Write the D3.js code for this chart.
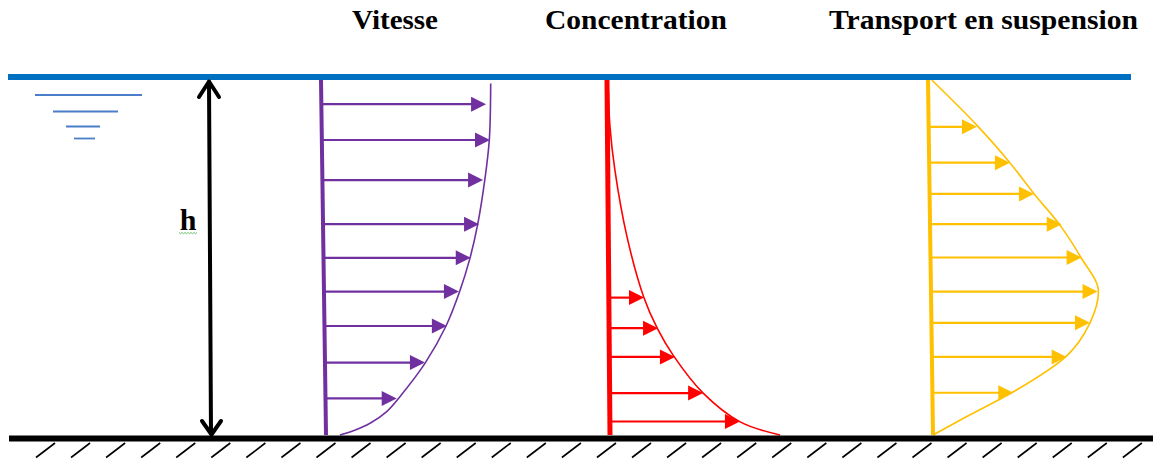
<!DOCTYPE html>
<html>
<head>
<meta charset="utf-8">
<script src="https://cdn.jsdelivr.net/npm/d3@7"></script>
<style>
  html, body { margin: 0; padding: 0; background: #fff; }
  svg { display: block; }
</style>
</head>
<body>
<div id="chart"></div>
<script>
// ---------------- DATA (relative height z: 0 = bed, 1 = surface; values normalised) ----------------
const titles = ["Vitesse", "Concentration", "Transport en suspension"];
const depthLabel = "h";

// Vitesse (velocity) profile
const velArrowZ = [0.932, 0.831, 0.718, 0.594, 0.499, 0.404, 0.307, 0.204, 0.103];
const velArrowU = [0.969, 0.989, 0.945, 0.918, 0.866, 0.794, 0.720, 0.588, 0.419];
const velCurveZ = [0.99, 0.831, 0.718, 0.594, 0.499, 0.404, 0.307, 0.203, 0.108, 0.066, 0.033, 0.012, 0.0];
const velCurveU = [0.998, 0.985, 0.955, 0.910, 0.862, 0.798, 0.715, 0.590, 0.438, 0.359, 0.260, 0.161, 0.082];

// Concentration profile
const concArrowZ = [0.387, 0.301, 0.220, 0.118, 0.038];
const concArrowC = [0.207, 0.288, 0.386, 0.550, 0.765];
const concCurveZ = [1.0, 0.87, 0.746, 0.558, 0.389, 0.301, 0.225, 0.118, 0.037, 0.0];
const concCurveC = [0.006, 0.015, 0.042, 0.110, 0.205, 0.283, 0.375, 0.550, 0.766, 1.0];

// Transport en suspension profile
const trArrowZ = [0.868, 0.767, 0.679, 0.594, 0.500, 0.404, 0.316, 0.220, 0.119];
const trArrowT = [0.284, 0.475, 0.614, 0.775, 0.889, 0.980, 0.933, 0.793, 0.476];
const trCurveZ = [1.0, 0.873, 0.770, 0.679, 0.594, 0.500, 0.404, 0.318, 0.223, 0.119, 0.052, 0.0];
const trCurveT = [0.022, 0.283, 0.470, 0.615, 0.760, 0.885, 0.985, 0.935, 0.793, 0.466, 0.200, 0.0];

// ---------------- LAYOUT ----------------
const W = 1153, H = 464;
const svg = d3.select("#chart").append("svg").attr("width", W).attr("height", H);

const yZ = d3.scaleLinear().domain([0, 1]).range([435, 80]);
const valueScale = d3.scaleLinear().domain([0, 1]).range([0, 170]);

const panels = [
  { title: titles[0], color: "#7030A0", baseBottom: 326, baseTop: 321, baseWidth: 4,
    arrowZ: velArrowZ, arrowV: velArrowU, curveZ: velCurveZ, curveV: velCurveU,
    curve: d3.curveCatmullRom.alpha(0.5), titleX: 352, titleW: 86 },
  { title: titles[1], color: "#FF0000", baseBottom: 610, baseTop: 607, baseWidth: 5,
    arrowZ: concArrowZ, arrowV: concArrowC, curveZ: concCurveZ, curveV: concCurveC,
    curve: d3.curveCatmullRom.alpha(0.5), titleX: 545, titleW: 182 },
  { title: titles[2], color: "#FFC000", baseBottom: 933, baseTop: 928, baseWidth: 4,
    arrowZ: trArrowZ, arrowV: trArrowT, curveZ: trCurveZ, curveV: trCurveT,
    curve: d3.curveMonotoneY, titleX: 829, titleW: 309 }
];

// Titles
panels.forEach(p => {
  svg.append("text")
    .attr("x", p.titleX).attr("y", 29)
    .attr("font-family", "'Liberation Serif', 'Times New Roman', serif")
    .attr("font-weight", "bold")
    .attr("font-size", 28)
    .attr("textLength", p.titleW)
    .attr("lengthAdjust", "spacingAndGlyphs")
    .attr("fill", "#000")
    .text(p.title);
});

// Profiles
panels.forEach(p => {
  const base = d3.scaleLinear().domain([0, 1]).range([p.baseBottom, p.baseTop]);
  const xOf = (z, v) => base(z) + valueScale(v);
  const g = svg.append("g");

  // vertical base line
  g.append("line")
    .attr("x1", base(1)).attr("y1", yZ(1))
    .attr("x2", base(0)).attr("y2", yZ(0))
    .attr("stroke", p.color).attr("stroke-width", p.baseWidth);

  // profile curve
  const pts = p.curveZ.map((z, i) => [xOf(z, p.curveV[i]), yZ(z)]);
  g.append("path")
    .attr("d", d3.line().curve(p.curve)(pts))
    .attr("fill", "none").attr("stroke", p.color).attr("stroke-width", 1.6);

  // arrows
  const arrows = p.arrowZ.map((z, i) => ({ z, v: p.arrowV[i] }));
  const ag = g.selectAll("g.arrow").data(arrows).join("g").attr("class", "arrow");
  ag.append("line")
    .attr("x1", d => base(d.z))
    .attr("x2", d => xOf(d.z, d.v) - 12)
    .attr("y1", d => yZ(d.z)).attr("y2", d => yZ(d.z))
    .attr("stroke", p.color).attr("stroke-width", 2.2);
  ag.append("path")
    .attr("d", d => {
      const tx = xOf(d.z, d.v), ty = yZ(d.z);
      return `M${tx},${ty}L${tx - 15},${ty - 7.5}L${tx - 15},${ty + 7.5}Z`;
    })
    .attr("fill", p.color);
});

// Water surface
svg.append("line")
  .attr("x1", 8).attr("x2", 1131).attr("y1", 77).attr("y2", 77)
  .attr("stroke", "#0070C0").attr("stroke-width", 6);

// Water surface symbol
const surfSym = [[35, 142, 95], [53, 118, 111.5], [66, 100, 126.5], [74, 95, 138.5]];
svg.selectAll("line.sym").data(surfSym).join("line").attr("class", "sym")
  .attr("x1", d => d[0]).attr("x2", d => d[1])
  .attr("y1", d => d[2]).attr("y2", d => d[2])
  .attr("stroke", "#4A7EC8").attr("stroke-width", 1.8);

// Bed line
svg.append("line")
  .attr("x1", 9).attr("x2", 1153).attr("y1", 438.5).attr("y2", 438.5)
  .attr("stroke", "#000").attr("stroke-width", 6);

// Hatching
const hatchX = d3.range(36, 1135, 35.06);
svg.selectAll("line.hatch").data(hatchX).join("line").attr("class", "hatch")
  .attr("x1", d => d).attr("y1", 457.5)
  .attr("x2", d => d + 19).attr("y2", 443)
  .attr("stroke", "#000").attr("stroke-width", 1.6);

// Depth arrow h
const hg = svg.append("g").attr("stroke", "#000").attr("stroke-width", 4)
  .attr("fill", "none").attr("stroke-linecap", "round").attr("stroke-linejoin", "round");
hg.append("line").attr("x1", 209).attr("y1", 82).attr("x2", 211).attr("y2", 433);
hg.append("path").attr("d", "M199,97L209,81.5L219,97");
hg.append("path").attr("d", "M202,421L211.5,434.5L221,421");

svg.append("text")
  .attr("x", 188).attr("y", 230)
  .attr("text-anchor", "middle")
  .attr("font-family", "'Liberation Serif', 'Times New Roman', serif")
  .attr("font-weight", "bold").attr("font-size", 30)
  .attr("fill", "#000")
  .text(depthLabel);

// spell-check squiggle under h
svg.append("path").attr("d", "M179,232.5 l1.5,1.2 l1.5,-1.2 l1.5,1.2 l1.5,-1.2 l1.5,1.2 l1.5,-1.2 l1.5,1.2 l1.5,-1.2 l1.5,1.2 l1.5,-1.2 l1.5,1.2 l1.5,-1.2")
  .attr("fill", "none").attr("stroke", "#70C070").attr("stroke-width", 1);
</script>
</body>
</html>
